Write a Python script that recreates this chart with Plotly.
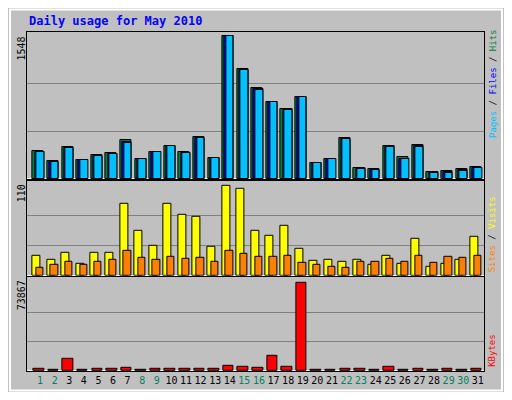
import plotly.graph_objects as go

days = list(range(1, 32))
weekend = [1, 2, 8, 9, 15, 16, 22, 23, 29, 30]

hits = [298, 193, 340, 203, 256, 277, 417, 214, 287, 361, 287, 455, 224, 1548, 1191, 981,
        834, 760, 886, 172, 214, 445, 119, 109, 361, 235, 371, 77, 88, 109, 130]
files = [290, 185, 332, 203, 248, 268, 395, 214, 287, 361, 279, 447, 224, 1548, 1182, 970,
         834, 752, 886, 172, 214, 437, 112, 101, 353, 218, 355, 70, 70, 92, 122]
pages = [287, 182, 329, 203, 245, 266, 392, 214, 287, 361, 277, 445, 224, 1548, 1180, 963,
         834, 749, 886, 172, 214, 434, 109, 98, 350, 214, 350, 67, 67, 88, 119]
visits = [24, 20, 28, 15, 28, 28, 88, 55, 37, 88, 74, 72, 35, 110, 106, 55,
          49, 61, 33, 18, 20, 17, 20, 14, 25, 15, 45, 11, 15, 20, 48]
sites = [10, 14, 17, 14, 17, 20, 31, 22, 20, 23, 21, 22, 17, 31, 27, 23,
         23, 24, 16, 14, 11, 10, 17, 17, 21, 17, 25, 16, 23, 22, 25]
kbytes = [2157, 1000, 10245, 1000, 2157, 2157, 2966, 1000, 2157, 2157, 2157, 2157, 2157, 4583, 3774, 2966,
          12671, 3774, 73867, 1000, 1000, 2157, 2157, 1000, 3774, 1000, 2157, 1000, 2157, 1000, 2157]

GRAY = "#C0C0C0"
fig = go.Figure()

def bars(y, color, offset, width, xa, ya):
    fig.add_trace(go.Bar(x=days, y=y, marker=dict(color=color, line=dict(color="black", width=1)),
                         offset=offset, width=width, xaxis=xa, yaxis=ya, showlegend=False))

bars(hits, "#008040", -0.5, 0.76, "x", "y")
bars(files, "#0000FF", -0.35, 0.62, "x", "y")
bars(pages, "#00C0FF", -0.25, 0.53, "x", "y")
bars(visits, "#FFFF00", -0.53, 0.55, "x2", "y2")
bars(sites, "#FF8000", -0.27, 0.5, "x2", "y2")
bars(kbytes, "#FF0000", -0.45, 0.72, "x3", "y3")

ticktext = [f"<span style='color:{'#008060' if d in weekend else 'black'}'>{d}</span>" for d in days]
xr = [0.13, 31.4]
xdom = [20 / 512, 491 / 512]
axline = dict(showline=True, linecolor="black", linewidth=1, mirror=True)
fig.update_layout(
    margin=dict(l=0, r=0, t=0, b=0),
    paper_bgcolor=GRAY, plot_bgcolor=GRAY, barmode="overlay", bargap=0,
    font=dict(family="DejaVu Sans Mono", size=10, color="black"),
    xaxis=dict(domain=xdom, range=xr, anchor="y", showticklabels=False, showgrid=False, **axline),
    xaxis2=dict(domain=xdom, range=xr, anchor="y2", showticklabels=False, showgrid=False, **axline),
    xaxis3=dict(domain=xdom, range=xr, anchor="y3", tickvals=days, ticktext=ticktext, ticks="",
                tickangle=0, showgrid=False, tickfont=dict(size=10), **axline),
    yaxis=dict(domain=[0.555, 0.9375], range=[0, 1590], tickvals=[1548 / 3, 2 * 1548 / 3],
               showticklabels=False, gridcolor="#808080", ticks="", **axline),
    yaxis2=dict(domain=[0.3025, 0.55], range=[0, 116], tickvals=[110 / 3, 220 / 3],
                showticklabels=False, gridcolor="#808080", ticks="", **axline),
    yaxis3=dict(domain=[0.055, 0.30], range=[0, 78700], tickvals=[73867 / 3, 2 * 73867 / 3],
                showticklabels=False, gridcolor="#808080", ticks="", **axline),
    shapes=[dict(type="rect", xref="paper", yref="paper", x0=0.004, x1=0.996, y0=0.004, y1=0.996,
                 line=dict(color="white", width=2))],
)

ann = [
    dict(x=20 / 512, y=1 - 14 / 400, text="<b>Daily usage for May 2010</b>", xanchor="left", yanchor="middle",
         font=dict(color="#0000FF", size=12)),
    dict(x=14 / 512, y=1 - 28 / 400, text="1548", textangle=-90, xanchor="center", yanchor="top"),
    dict(x=14 / 512, y=1 - 182 / 400, text="110", textangle=-90, xanchor="center", yanchor="top"),
    dict(x=14 / 512, y=1 - 282 / 400, text="73867", textangle=-90, xanchor="center", yanchor="top"),
    dict(x=500 / 512, y=1 - 137 / 400, textangle=-90, xanchor="center", yanchor="bottom",
         font=dict(size=9),
         text="<span style='color:#00C0FF'>Pages</span> / <span style='color:#0000FF'>Files</span> / "
              "<span style='color:#008040'>Hits</span>"),
    dict(x=500 / 512, y=1 - 277 / 400, textangle=-90, xanchor="center", yanchor="bottom",
         font=dict(size=9),
         text="<span style='color:#FF8000'>Sites</span> / <span style='color:#FFFF00'>Visits</span>"),
    dict(x=500 / 512, y=1 - 376 / 400, textangle=-90, xanchor="center", yanchor="bottom",
         font=dict(size=9),
         text="<span style='color:#FF0000'>KBytes</span>"),
]
for a in ann:
    a.update(xref="paper", yref="paper", showarrow=False)
fig.update_layout(annotations=ann)

fig.write_html("out.html")
